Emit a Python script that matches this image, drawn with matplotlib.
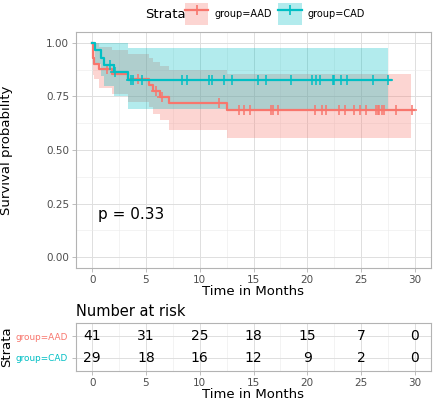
"""
Kaplan-Meier style plot with number-at-risk table (AAD vs CAD).
"""

import matplotlib
matplotlib.use('Agg')
import matplotlib.pyplot as plt
from matplotlib.patches import Patch
from matplotlib.lines import Line2D

RED = '#F8766D'
TEAL = '#00BFC4'
GRID = '#EBEBEB'
BORDER = '#B3B3B3'
TICKC = '#4D4D4D'

# survival steps
aad_t = [0, 0.05, 0.15, 0.62, 1.85, 3.3, 5.25, 5.7, 6.3, 7.1, 12.5, 29.9]
aad_s = [1.0, 0.927, 0.902, 0.878, 0.854, 0.829, 0.805, 0.775, 0.748, 0.72, 0.685, 0.685]
aad_band_t = [0, 0.05, 0.15, 0.62, 1.85, 3.3, 5.25, 5.7, 6.3, 7.1, 12.5, 29.6]
aad_up = [1.0, 1.0, 1.0, 0.98, 0.968, 0.948, 0.93, 0.91, 0.89, 0.874, 0.855, 0.855]
aad_lo = [1.0, 0.85, 0.83, 0.79, 0.76, 0.725, 0.70, 0.67, 0.64, 0.593, 0.554, 0.554]
aad_cens = [1.4, 4.3, 5.9, 6.5, 11.8, 13.67, 14.13, 14.66, 16.67, 16.81, 17.28,
            20.68, 21.39, 21.76, 22.93, 23.52, 24.31, 24.9, 25.46, 26.39,
            26.54, 26.69, 26.94, 27.09, 28.24, 29.78]

cad_t = [0, 0.3, 0.8, 1.1, 2.0, 3.3, 27.8]
cad_s = [1.0, 0.966, 0.931, 0.897, 0.862, 0.828, 0.828]
cad_band_t = [0, 0.3, 0.8, 1.1, 2.0, 3.3, 27.5]
cad_up = [1.0, 1.0, 1.0, 1.0, 1.0, 0.975, 0.975]
cad_lo = [1.0, 0.90, 0.845, 0.80, 0.75, 0.693, 0.693]
cad_cens = [1.7, 2.16, 3.6, 3.77, 4.63, 8.33, 8.8, 10.9, 11.1, 12.3, 13.0,
            15.4, 16.2, 18.5, 20.4, 20.8, 21.2, 22.4, 22.5, 23.1, 23.7,
            26.1, 27.5]

risk_times = [0, 5, 10, 15, 20, 25, 30]
risk_aad = [41, 31, 25, 18, 15, 7, 0]
risk_cad = [29, 18, 16, 12, 9, 2, 0]
pval = 'p = 0.33'


def surv_at(times, surv, x):
    val = surv[0]
    for t, s in zip(times, surv):
        if x >= t:
            val = s
    return val


def style_axes(ax):
    ax.set_facecolor('white')
    for sp in ax.spines.values():
        sp.set_color(BORDER)
        sp.set_linewidth(0.8)
    ax.tick_params(colors=BORDER, labelcolor=TICKC, labelsize=7.5, length=3,
                   width=0.6, pad=2)
    ax.grid(True, which='major', color='#DEDEDE', linewidth=0.7)
    ax.grid(True, which='minor', color=GRID, linewidth=0.4)
    ax.set_axisbelow(True)


fig = plt.figure(figsize=(4.33, 4.0), dpi=100)
ax = fig.add_axes([76 / 433, 132 / 400, 355 / 433, 236 / 400])
style_axes(ax)

# confidence bands
for bt, up, lo, col in [(aad_band_t, aad_up, aad_lo, RED),
                        (cad_band_t, cad_up, cad_lo, TEAL)]:
    ax.fill_between(bt, up, lo, step='post', color=col, alpha=0.3, linewidth=0)

# curves + censor marks
for t, s, cens, col in [(aad_t, aad_s, aad_cens, RED), (cad_t, cad_s, cad_cens, TEAL)]:
    ax.step(t, s, where='post', color=col, linewidth=1.6)
    ax.plot(cens, [surv_at(t, s, c) for c in cens], linestyle='none', marker='+',
            markersize=6.5, markeredgewidth=1.1, color=col)

ax.text(0.5, 0.2, pval, fontsize=11, ha='left', va='center')
ax.set_xlim(-1.5, 31.5)
ax.set_ylim(-0.05, 1.05)
ax.set_xticks([0, 5, 10, 15, 20, 25, 30])
ax.set_xticks([2.5, 7.5, 12.5, 17.5, 22.5, 27.5], minor=True)
ax.set_yticks([0, 0.25, 0.5, 0.75, 1.0])
ax.set_yticklabels(['0.00', '0.25', '0.50', '0.75', '1.00'])
ax.set_yticks([0.125, 0.375, 0.625, 0.875], minor=True)
ax.tick_params(which='minor', length=0)
ax.set_xlabel('Time in Months', fontsize=9.5, labelpad=0)
ax.set_ylabel('Survival probability', fontsize=9.5)
ax.yaxis.set_label_coords(-0.177, 0.5)

# legend at the top
fig.text(145 / 433, 1 - 14 / 400, 'Strata', fontsize=9.5, ha='left', va='center')
handles = [(Patch(facecolor=RED, alpha=0.3, edgecolor='none'),
            Line2D([], [], color=RED, marker='+', lw=1.6, markersize=7, mew=1.2)),
           (Patch(facecolor=TEAL, alpha=0.3, edgecolor='none'),
            Line2D([], [], color=TEAL, marker='+', lw=1.6, markersize=7, mew=1.2))]
fig.legend(handles, ['group=AAD', 'group=CAD'], ncol=2, frameon=False,
           loc='center left', bbox_to_anchor=(185 / 433, 1 - 14 / 400),
           fontsize=7, handlelength=2.4, handleheight=3.2, handletextpad=0.6,
           columnspacing=0.7, borderpad=0, borderaxespad=0)

# risk table
rx = fig.add_axes([76 / 433, 29 / 400, 355 / 433, 48 / 400])
style_axes(rx)
for i, tm in enumerate(risk_times):
    rx.text(tm, 2, str(risk_aad[i]), ha='center', va='center', fontsize=10)
    rx.text(tm, 1, str(risk_cad[i]), ha='center', va='center', fontsize=10)
rx.set_xlim(-1.5, 31.5)
rx.set_ylim(0.4, 2.6)
rx.set_xticks(risk_times)
rx.set_xticks([2.5, 7.5, 12.5, 17.5, 22.5, 27.5], minor=True)
rx.set_yticks([1, 2])
rx.set_yticklabels(['group=CAD', 'group=AAD'])
rx.tick_params(which='minor', length=0)
rx.tick_params(axis='y', labelsize=6.4, pad=3)
for lbl, col in zip(rx.get_yticklabels(), [TEAL, RED]):
    lbl.set_color(col)
rx.set_xlabel('Time in Months', fontsize=9.5, labelpad=0)
rx.set_ylabel('Strata', fontsize=9.5)
rx.yaxis.set_label_coords(-0.177, 0.5)
rx.set_title('Number at risk', fontsize=10.5, loc='left', pad=5)

fig.savefig('out.png', dpi=100)
